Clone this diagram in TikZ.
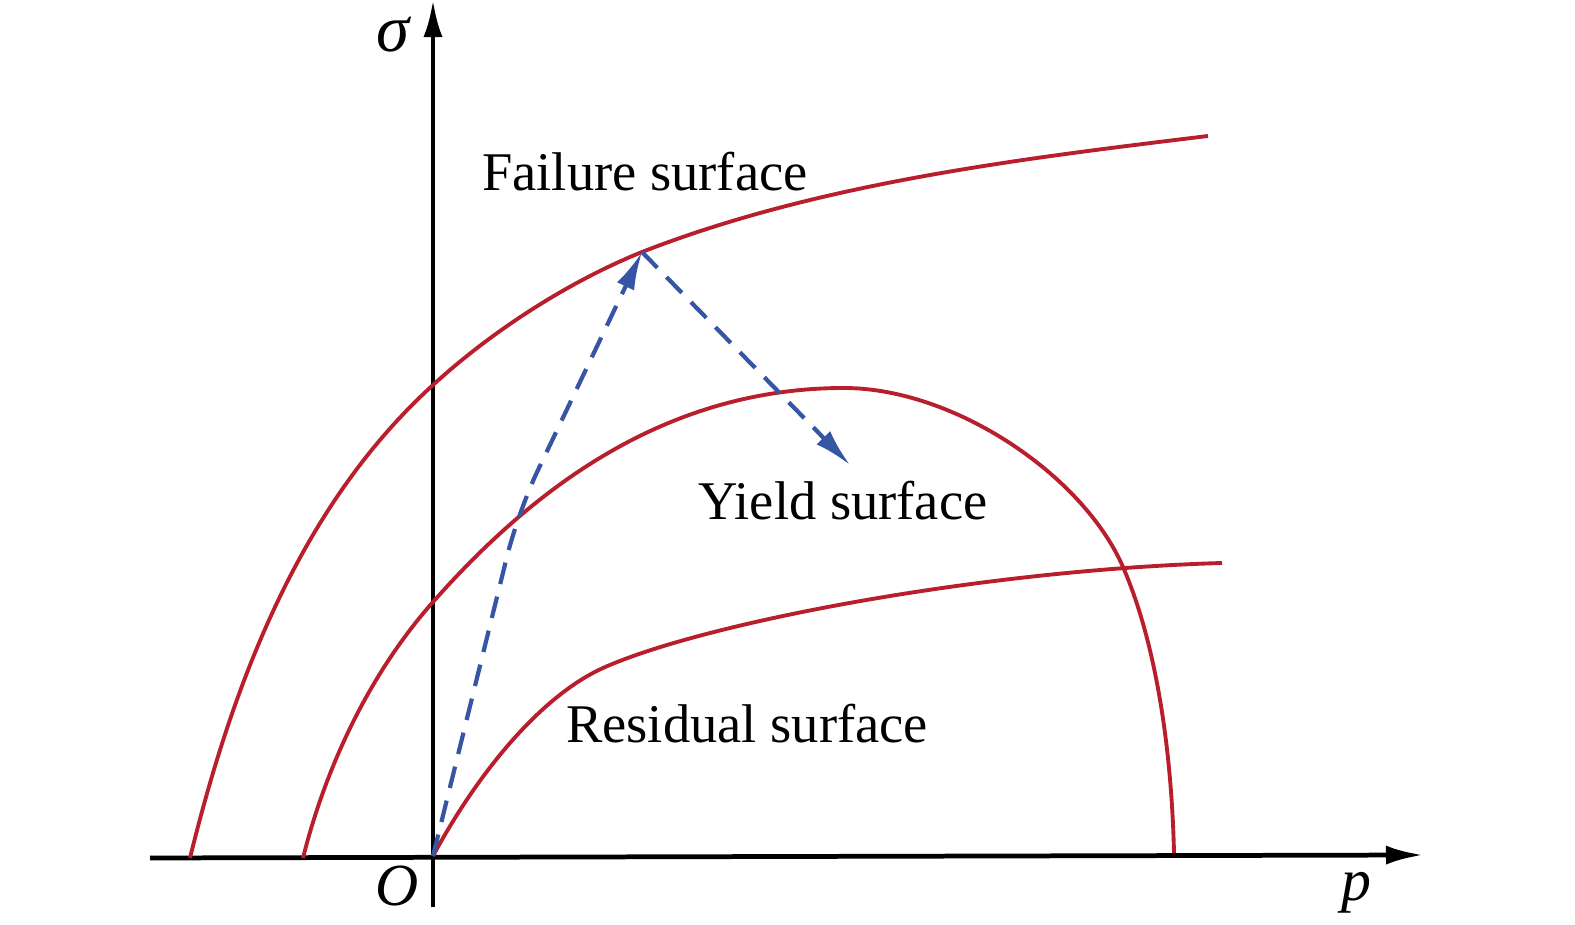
\documentclass[tikz,border=0pt]{standalone}
\usepackage{fontspec}
\setmainfont{Liberation Serif}
\usetikzlibrary{arrows.meta}

\definecolor{surfred}{RGB}{185,30,45}
\definecolor{pathblue}{RGB}{55,85,165}

\tikzset{
  axis/.style={line width=1.35pt, -{Latex[length=0.37cm, width=0.19cm]}},
  surface/.style={surfred, line width=1.1pt},
  loadpath/.style={pathblue, line width=1.2pt, dash pattern=on 0.22cm off 0.13cm,
    -{Latex[length=0.38cm, width=0.19cm]}},
  label/.style={font=\fontsize{15.5}{18}\selectfont, anchor=base, inner sep=0pt}
}

\begin{document}
\begin{tikzpicture}[x=0.01cm, y=-0.01cm]
      \useasboundingbox (0,0) rectangle (1575,925);

      % axes
      \coordinate (xs) at (150,858);
      \coordinate (xe) at (1423,855);
      \coordinate (ys) at (433,907);
      \coordinate (ye) at (433,0);
      \coordinate (O)  at (433,856);
      \coordinate (A)  at (642,252);
      \coordinate (B)  at (850,465);

      \draw[axis] (xs) -- (xe);
      \draw[axis] (ys) -- (ye);

      % surfaces
      \begin{scope}[surface]
        % failure
        \draw (190,858) .. controls (233,683) and (300,506) .. (433,385)
                        .. controls (492,331) and (568,282) .. (A)
                        .. controls (819,183) and (1019,159) .. (1208,136);
        % yield
        \draw (303,858) .. controls (326,766) and (370,673) .. (433,602)
                        .. controls (532,490) and (664,388) .. (844,388)
                        .. controls (954,388) and (1083,475) .. (1123,567)
                        .. controls (1159,650) and (1172,763) .. (1174,853);
        % residual
        \draw (O) .. controls (476,776) and (539,697) .. (603,668)
                  .. controls (703,623) and (980,570) .. (1222,563);
      \end{scope}

      % stress path
      \draw[loadpath, rounded corners=0.45cm] (O) -- (518,512) -- (A);
      \draw[loadpath] (A) -- (B);

      \begin{scope}[every node/.style={label}]
        \node (failure)  at (645,191) {Failure surface};
        \node (yield)    at (843,520) {Yield surface};
        \node (residual) at (747,743) {Residual surface};
        \node[font=\fontsize{19}{22}\selectfont\itshape] (sigma) at (393,52) {σ};
        \node[font=\fontsize{17}{20}\selectfont\itshape] (origin) at (397,906) {O};
        \node[font=\fontsize{17}{20}\selectfont\itshape] (pres) at (1356,901) {p};
      \end{scope}

    \end{tikzpicture}
\end{document}
